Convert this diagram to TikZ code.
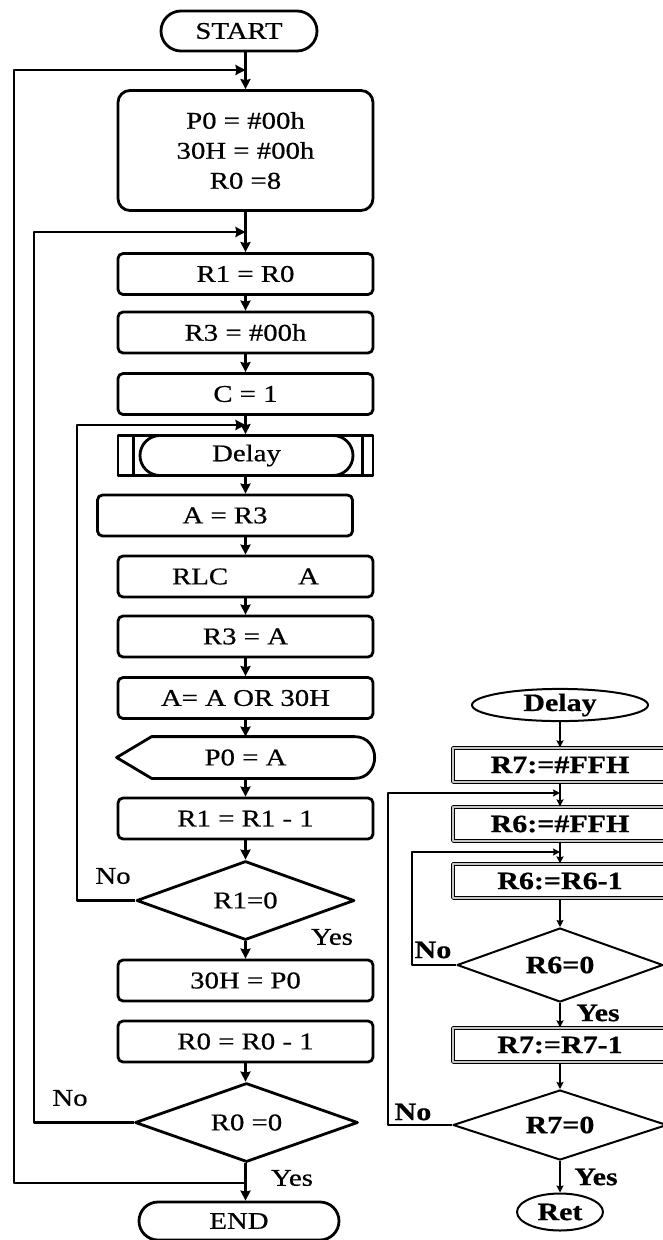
\documentclass[tikz,border=0pt]{standalone}
\usepackage{fontspec}
\setmainfont{Liberation Serif}[FakeStretch=1.2, FakeBold=0.6]
\usetikzlibrary{shapes.geometric,shapes.misc,arrows.meta}
\tikzset{
  box/.style={draw, rounded corners=5pt, minimum width=255, minimum height=41, inner sep=0pt},
  term/.style={draw, rounded rectangle, minimum height=40, inner sep=0pt},
  decision/.style={draw, diamond, aspect=2.75, inner sep=0pt},
  rbox/.style={draw, line width=1.2pt, double=gray!45, double distance=1.2pt, minimum width=214, minimum height=34, inner sep=0pt},
  lbl/.style={inner sep=0pt}
}
\begin{document}
\begin{tikzpicture}[x=1pt, y=-1pt, line width=2.8pt, line join=round, >={Stealth[length=10pt,width=10pt,inset=1pt]}, font=\fontsize{24}{30}\selectfont]
\def\xa{14} \def\xb{34} \def\xc{77}
\useasboundingbox (0,0) rectangle (662,1240);
%\draw[color=gray!50,dashed] (0,0) grid[step=50] (662,1240);
% main routine
\node[term, minimum width=156] (start) at (239,31) {START};
\node[box, rounded corners=12pt, minimum height=120, align=center] (init) at (245.5,150.5) {P0 = \#00h\\30H = \#00h\\R0 =8};
\node[box] (r1r0) at (245.5,274) {R1 = R0};
\node[box] (r3h) at (245.5,332.5) {R3 = \#00h};
\node[box] (c1) at (245.5,394) {C = 1};
\node[box, rounded corners=0pt, minimum height=40] (delay) at (245.5,455.5) {};
\node[term, minimum width=213, minimum height=40] (delayin) at (246.5,455.5) {Delay};
\draw ([xshift=17pt]delay.north west) -- ([xshift=17pt]delay.south west)
      ([xshift=-12pt]delay.north east) -- ([xshift=-12pt]delay.south east);
\node[box] (ar3) at (225,515.5) {A = R3};
\node[box] (rlc) at (245.5,576.5) {RLC\hspace{70pt}A};
\node[box] (r3a) at (245.5,636.5) {R3 = A};
\node[box] (aor) at (245.5,698) {A= A OR 30H};
\node[minimum width=255, minimum height=39, inner sep=0pt] (p0a) at (245.5,757.5) {P0 = A};
\draw (p0a.west) -- ([xshift=35pt]p0a.north west) -- ([xshift=-20pt]p0a.north east)
      .. controls +(27,0) and +(27,0) .. ([xshift=-20pt]p0a.south east) -- ([xshift=35pt]p0a.south west) -- cycle;
\node[box] (r1m) at (245.5,818.5) {R1 = R1 - 1};
\node[decision, minimum width=218, minimum height=79] (d1) at (245.5,900.5) {R1=0};
\node[box] (p030) at (245.5,980.5) {30H = P0};
\node[box] (r0m) at (245.5,1041.5) {R0 = R0 - 1};
\node[decision, minimum width=223, minimum height=79] (d0) at (246.5,1122.5) {R0 =0};
\node[term, minimum width=200, minimum height=38] (stop) at (239,1221) {END};
\node[lbl] (no1) at (113,876) {No};
\node[lbl] (yes1) at (332,937) {Yes};
\node[lbl] (no0) at (70,1098) {No};
\node[lbl] (yes0) at (292,1178) {Yes};
\coordinate (j1) at (245.5,70);
\coordinate (j2) at (245.5,232);
\coordinate (j3) at (245.5,425);
\coordinate (j4) at (245.5,1183);
\foreach \a/\b in {start/init, init/r1r0, r1r0/r3h, r3h/c1, c1/delay, delay/ar3, ar3/rlc, rlc/r3a,
  r3a/aor, aor/p0a, p0a/r1m, r1m/d1, d1/p030, r0m/d0, d0/stop}
  \draw[->] (\a.south -| init) -- (\b.north -| init);
\draw[->] (j4) -| (\xa,70) -- (j1);
\draw[->] (d0.west) -| (\xb,232) -- (j2);
\draw[->] (d1.west) -| (\xc,425) -- (j3);
% delay subroutine
\begin{scope}[line width=2pt, >={Stealth[length=7pt,width=7pt,inset=1pt]}, font=\fontsize{25}{28}\selectfont\bfseries]
\node[draw, ellipse, minimum width=176, minimum height=30, inner sep=0pt] (dly) at (560,705) {Delay};
\node[rbox] (r7) at (560,765) {R7:=\#FFH};
\node[rbox] (r6) at (560,824) {R6:=\#FFH};
\node[rbox] (r6m) at (560,881) {R6:=R6-1};
\node[decision, minimum width=206, minimum height=74] (d6) at (560,965) {R6=0};
\node[rbox] (r7m) at (560,1045) {R7:=R7-1};
\node[decision, minimum width=214, minimum height=70] (d7) at (560,1125) {R7=0};
\node[draw, ellipse, minimum width=86, minimum height=37, inner sep=0pt] (ret) at (560,1212) {Ret};
\node[lbl] (no6) at (433,950) {No};
\node[lbl] (yes6) at (598,1013) {Yes};
\node[lbl] (no7) at (413,1112) {No};
\node[lbl] (yes7) at (596,1177) {Yes};
\coordinate (k7) at (560,793);
\coordinate (k6) at (560,852);
\foreach \a/\b in {dly/r7, r7/r6, r6/r6m, r6m/d6, d6/r7m, r7m/d7, d7/ret}
  \draw[->] (\a) -- (\b);
\draw[->] (d6.west) -| (412,852) -- (k6);
\draw[->] (d7.west) -| (388,793) -- (k7);
\end{scope}
\end{tikzpicture}
\end{document}
